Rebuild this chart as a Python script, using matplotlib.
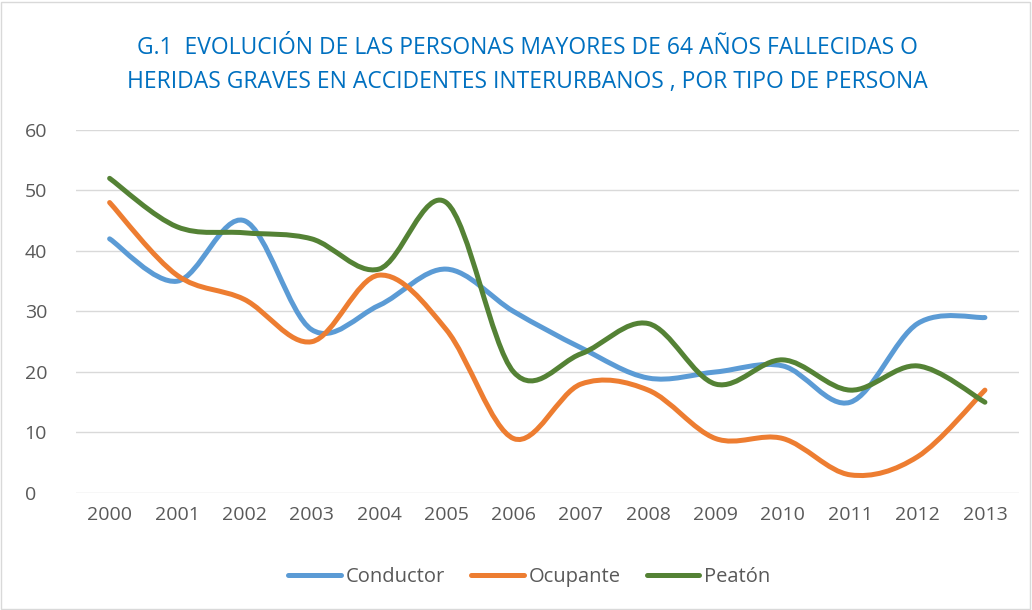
"""
G.1 Evolución de las personas mayores de 64 años fallecidas o heridas graves
en accidentes interurbanos, por tipo de persona.
"""
import numpy as np
import matplotlib
matplotlib.use("Agg")
import matplotlib.pyplot as plt
from matplotlib.path import Path
from matplotlib.patches import PathPatch, Rectangle
from matplotlib.lines import Line2D

# Datos
years = ["2000", "2001", "2002", "2003", "2004", "2005", "2006",
         "2007", "2008", "2009", "2010", "2011", "2012", "2013"]
conductor = [42, 35, 45, 27, 31, 37, 30, 24, 19, 20, 21, 15, 28, 29]
ocupante = [48, 36, 32, 25, 36, 27, 9, 18, 17, 9, 9, 3, 6, 17]
peaton = [52, 44, 43, 42, 37, 48, 20, 23, 28, 18, 22, 17, 21, 15]

series_names = ["Conductor", "Ocupante", "Peatón"]
series_vals = [conductor, ocupante, peaton]

# Colores
BLUE = "#5B9BD5"
ORANGE = "#ED7D31"
GREEN = "#548235"
TITLE_BLUE = "#0070C0"
TEXT_GREY = "#595959"
GRID = "#D9D9D9"
colors = [BLUE, ORANGE, GREEN]

plt.rcParams["font.family"] = ["Open Sans", "DejaVu Sans"]


def smooth_path(xs, ys):
    """Curva suave tipo Excel (Catmull-Rom -> Bezier cúbica)."""
    pts = np.column_stack([xs, ys]).astype(float)
    n = len(pts)
    verts = [pts[0]]
    codes = [Path.MOVETO]
    for i in range(n - 1):
        p0 = pts[i - 1] if i > 0 else pts[i]
        p1 = pts[i]
        p2 = pts[i + 1]
        p3 = pts[i + 2] if i + 2 < n else pts[i + 1]
        c1 = p1 + (p2 - p0) / 6.0
        c2 = p2 - (p3 - p1) / 6.0
        verts += [c1, c2, p2]
        codes += [Path.CURVE4] * 3
    return Path(verts, codes)


fig = plt.figure(figsize=(10.32, 6.10), dpi=100)
fig.patch.set_facecolor("white")
fig.patches.append(Rectangle((0.001, 0.002), 0.997, 0.995, transform=fig.transFigure,
                             fill=False, edgecolor=GRID, linewidth=1))

ax = fig.add_axes([0.0736, 0.1918, 0.9134, 0.5952])
x = np.arange(len(years))

for vals, col in zip(series_vals, colors):
    patch = PathPatch(smooth_path(x, vals), facecolor="none", edgecolor=col,
                      linewidth=3.6, capstyle="round", joinstyle="round", zorder=3)
    ax.add_patch(patch)

ax.set_xlim(-0.5, len(years) - 0.5)
ax.set_ylim(0, 60)
ax.set_yticks(range(0, 61, 10))
ax.set_xticks(x)
ax.set_xticklabels(years)
ax.tick_params(length=0, labelsize=14, colors=TEXT_GREY, pad=9)
ax.tick_params(axis="y", pad=37)
for lbl in ax.get_yticklabels():
    lbl.set_horizontalalignment("left")
ax.grid(True, axis="y", color=GRID, linewidth=1)
ax.set_axisbelow(True)
for s in ax.spines.values():
    s.set_visible(False)

fig.text(0.511, 0.921, "G.1  EVOLUCIÓN DE LAS PERSONAS MAYORES DE 64 AÑOS FALLECIDAS O",
         ha="center", va="center", fontsize=16.5, color=TITLE_BLUE)
fig.text(0.511, 0.865, "HERIDAS GRAVES EN ACCIDENTES INTERURBANOS , POR TIPO DE PERSONA",
         ha="center", va="center", fontsize=16.5, color=TITLE_BLUE)

handles = [Line2D([], [], color=c, linewidth=3.6, solid_capstyle="round") for c in colors]
fig.legend(handles, series_names, loc="center", bbox_to_anchor=(0.513, 0.054),
           ncol=3, frameon=False, fontsize=14.5, handlelength=2.6, handletextpad=0.25,
           columnspacing=1.3, labelcolor=TEXT_GREY)

fig.savefig("out.png", dpi=100, facecolor="white")
